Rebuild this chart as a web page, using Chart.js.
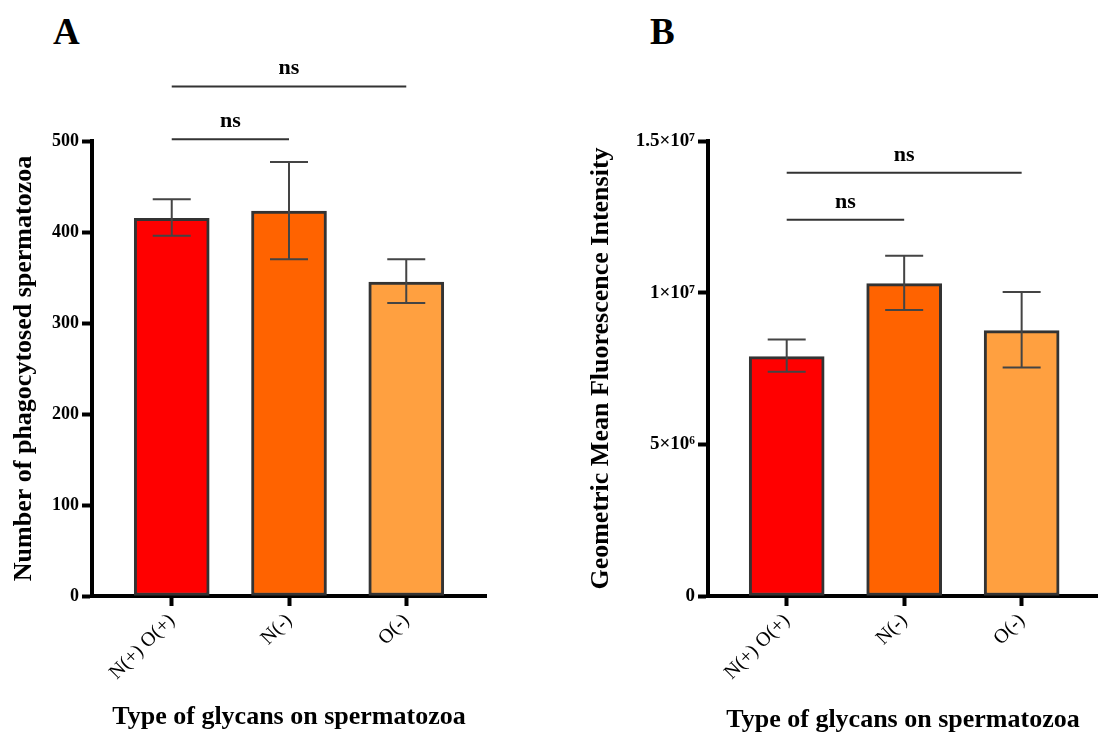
<!DOCTYPE html>
<html>
<head>
<meta charset="utf-8">
<script src="https://cdn.jsdelivr.net/npm/chart.js@4/dist/chart.umd.min.js"></script>
<style>
  html, body { margin: 0; padding: 0; background: #fff; }
  body { width: 1098px; height: 733px; position: relative; overflow: hidden; }
  canvas { position: absolute; top: 0; }
  #cA { left: 0; }
  #cB { left: 549px; }
  .panel { position: absolute; font-family: "Liberation Serif", "Times New Roman", serif; font-weight: bold; font-size: 37px; line-height: 1; color: #000; }
</style>
</head>
<body>
<div class="panel" style="left:53px; top:13px;">A</div>
<div class="panel" style="left:650px; top:13px;">B</div>
<canvas id="cA" width="549" height="733"></canvas>
<canvas id="cB" width="549" height="733"></canvas>
<script>
// ---- data ----
const categories = ['N(+) O(+)', 'N(-)', 'O(-)'];
const barColors = ['#FF0000', '#FF6300', '#FFA040'];

const phagoMean = [415, 423, 345];
const phagoLow  = [396, 370, 322];
const phagoHigh = [436, 477, 370];

const mfiMean = [7.89e6, 1.03e7, 8.75e6];
const mfiLow  = [7.39e6, 9.43e6, 7.53e6];
const mfiHigh = [8.46e6, 1.122e7, 1.002e7];

const mfiTickValues = [0, 5e6, 1e7, 1.5e7];
const mfiTickLabels = ['0', '5×10⁶', '1×10⁷', '1.5×10⁷'];

// significance brackets: [from index, to index, level (data units), label]
const phagoSig = [[0, 1, 502, 'ns'], [0, 2, 560, 'ns']];
const mfiSig   = [[0, 1, 1.240e7, 'ns'], [0, 2, 1.395e7, 'ns']];

const FONT = '"Liberation Serif", "Times New Roman", serif';

const overlayPlugin = {
  id: 'overlay',
  afterDatasetsDraw(chart) {
    const o = chart.options.plugins.overlay;
    const ctx = chart.ctx;
    const xs = chart.scales.x, ys = chart.scales.y;
    ctx.save();
    // error bars
    ctx.strokeStyle = '#444';
    ctx.lineWidth = 2;
    o.low.forEach((lo, i) => {
      const x = xs.getPixelForValue(i + 1);
      const y1 = ys.getPixelForValue(lo), y2 = ys.getPixelForValue(o.high[i]);
      ctx.beginPath();
      ctx.moveTo(x, y1); ctx.lineTo(x, y2);
      ctx.moveTo(x - 19, y1); ctx.lineTo(x + 19, y1);
      ctx.moveTo(x - 19, y2); ctx.lineTo(x + 19, y2);
      ctx.stroke();
    });
    // significance brackets
    ctx.strokeStyle = '#333';
    ctx.lineWidth = 2;
    ctx.fillStyle = '#000';
    ctx.font = 'bold 22px ' + FONT;
    ctx.textAlign = 'center';
    ctx.textBaseline = 'alphabetic';
    o.sig.forEach(([a, b, lvl, txt]) => {
      const xa = xs.getPixelForValue(a + 1), xb = xs.getPixelForValue(b + 1);
      const y = ys.getPixelForValue(lvl);
      ctx.beginPath(); ctx.moveTo(xa, y); ctx.lineTo(xb, y); ctx.stroke();
      ctx.fillText(txt, (xa + xb) / 2, y - 12);
    });
    ctx.restore();
  }
};

function makeChart(id, cfg) {
  return new Chart(document.getElementById(id), {
    type: 'bar',
    data: {
      datasets: [{
        data: cfg.mean.map((v, i) => ({ x: i + 1, y: v })),
        backgroundColor: barColors,
        borderColor: '#333',
        borderWidth: 3,
        borderSkipped: false,
        barThickness: 75
      }]
    },
    options: {
      responsive: false,
      animation: false,
      events: [],
      layout: { padding: { left: 0, right: cfg.padRight, top: 141, bottom: 0 } },
      plugins: {
        legend: { display: false },
        tooltip: { enabled: false },
        overlay: { low: cfg.low, high: cfg.high, sig: cfg.sig }
      },
      scales: {
        x: {
          type: 'linear',
          min: cfg.xmin, max: cfg.xmax,
          offset: false,
          afterBuildTicks: (s) => { s.ticks = categories.map((c, i) => ({ value: i + 1 })); },
          afterFit: (s) => { s.height = 137; },
          grid: { display: true, offset: false, drawOnChartArea: false, drawTicks: true, tickLength: 10, tickWidth: 4, tickColor: '#000' },
          border: { display: true, color: '#000', width: 4 },
          ticks: {
            autoSkip: false, minRotation: 45, maxRotation: 45, padding: 3,
            color: '#000', font: { family: FONT, size: 20 },
            callback: (v) => categories[Math.round(v) - 1]
          },
          title: {
            display: true, text: 'Type of glycans on spermatozoa', color: '#000',
            font: { family: FONT, size: 26, weight: 'bold', lineHeight: 1 },
            padding: { top: 0, bottom: cfg.xTitlePad }
          }
        },
        y: {
          min: cfg.ymin, max: cfg.ymax,
          afterFit: (s) => { s.width = cfg.yWidth; },
          afterBuildTicks: cfg.yTicks ? (s) => { s.ticks = cfg.yTicks.map(v => ({ value: v })); } : undefined,
          grid: { display: true, drawOnChartArea: false, drawTicks: true, tickLength: 10, tickWidth: 4, tickColor: '#000' },
          border: { display: true, color: '#000', width: 4 },
          ticks: {
            stepSize: cfg.step, padding: 3, color: '#000',
            font: { family: FONT, size: cfg.yTickSize, weight: 'bold' },
            callback: cfg.yLabel
          },
          title: {
            display: true, text: cfg.yTitle, color: '#000',
            font: { family: FONT, size: 26, weight: 'bold', lineHeight: 1 },
            padding: { top: cfg.yTitlePad, bottom: 0 }
          }
        }
      }
    },
    plugins: [overlayPlugin]
  });
}

makeChart('cA', {
  mean: phagoMean, low: phagoLow, high: phagoHigh, sig: phagoSig,
  xmin: 0.32, xmax: 3.68, padRight: 63, yWidth: 92,
  ymin: 0, ymax: 500, step: 100, yTickSize: 18,
  yLabel: (v) => String(v),
  yTitle: 'Number of phagocytosed spermatozoa', yTitlePad: 11, xTitlePad: 3
});

makeChart('cB', {
  mean: mfiMean, low: mfiLow, high: mfiHigh, sig: mfiSig,
  xmin: 0.33, xmax: 3.65, padRight: 0, yWidth: 159,
  ymin: 0, ymax: 1.5e7, step: 5e6, yTickSize: 19,
  yTicks: mfiTickValues,
  yLabel: (v) => mfiTickLabels[mfiTickValues.indexOf(v)],
  yTitle: 'Geometric Mean Fluorescence Intensity', yTitlePad: 39, xTitlePad: 0
});
</script>
</body>
</html>
